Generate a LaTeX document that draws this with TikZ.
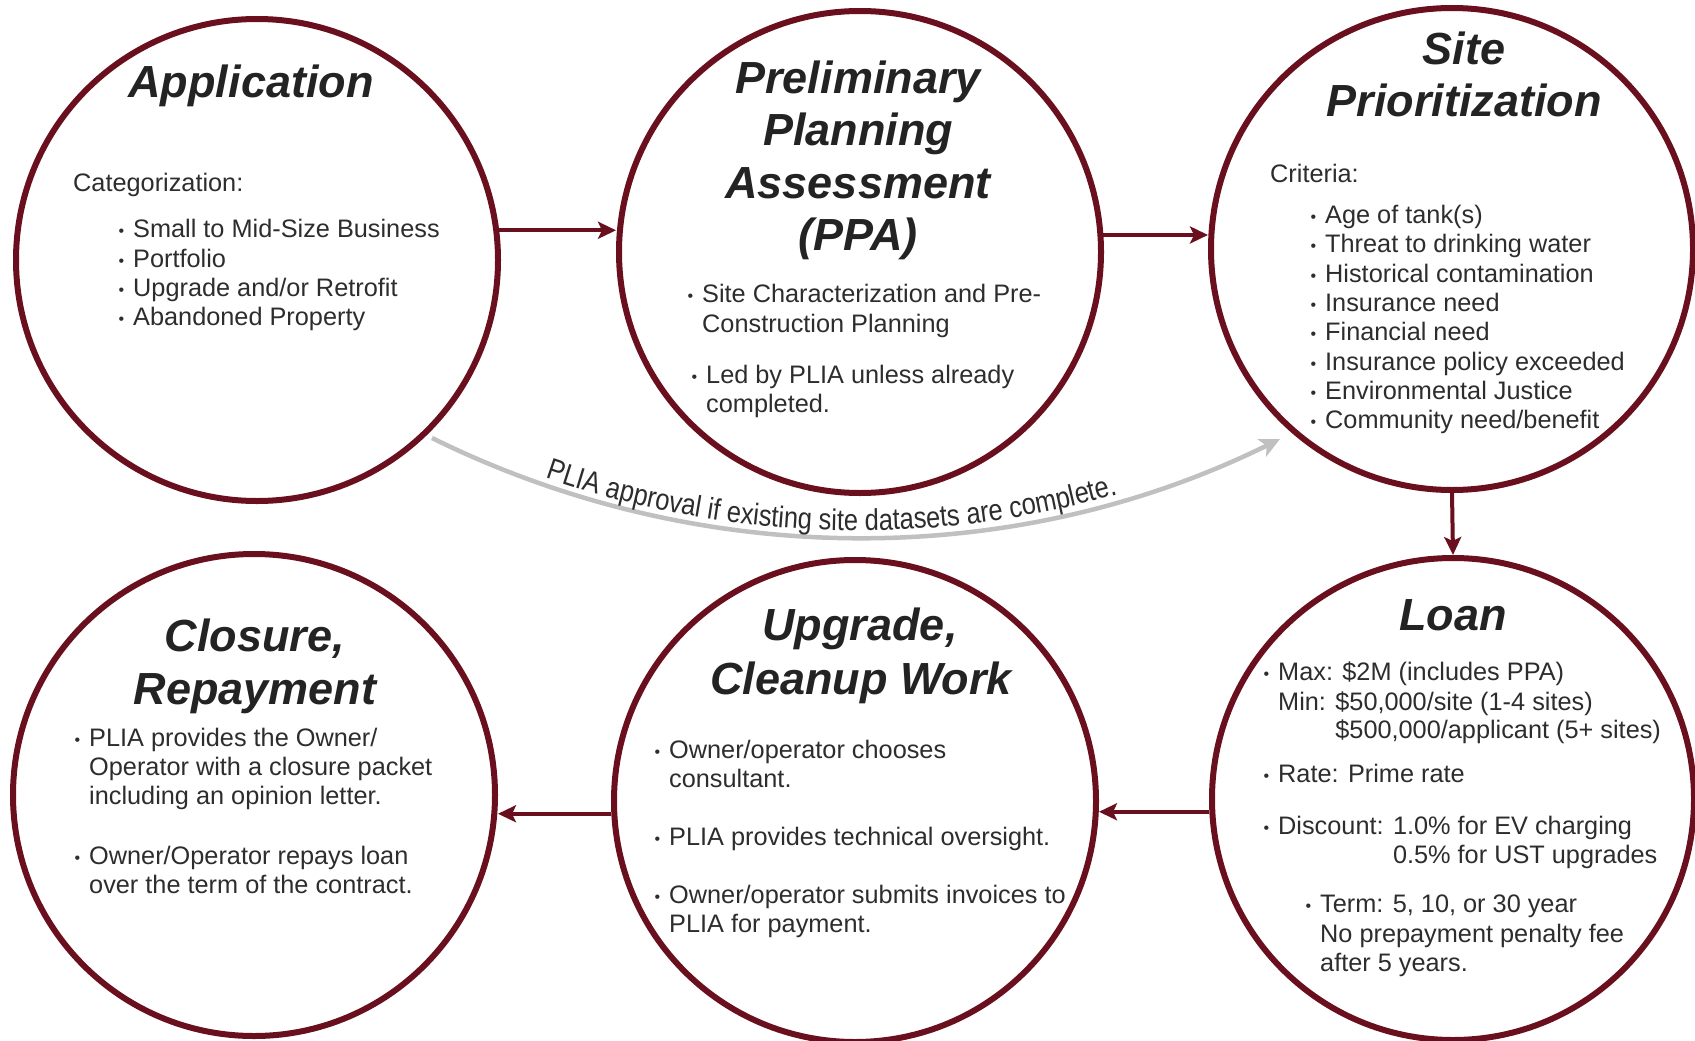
\documentclass[tikz,border=0pt]{standalone}
\usepackage{fontspec}
\setmainfont{Liberation Sans}
\newfontfamily\narrowfont[FakeStretch=0.85]{Liberation Sans}
\usetikzlibrary{arrows.meta,decorations.text}
\definecolor{colMaroon}{RGB}{105,15,30}
\definecolor{colTxt}{RGB}{45,45,45}
\definecolor{colTtl}{RGB}{35,35,35}
\definecolor{colGray}{RGB}{192,192,192}
\newcommand\bul{\llap{{\fontsize{16}{16}\selectfont\raisebox{1pt}{•}}\hspace{9pt}}}
\begin{document}
\begin{tikzpicture}[x=1pt,y=1pt,
  circ/.style={circle,draw=colMaroon,line width=6pt,minimum size=482pt,inner sep=0pt},
  arr/.style={draw=colMaroon,line width=4pt,-{Stealth[length=18pt,width=17pt,inset=4pt]}},
  grayarr/.style={draw=colGray,line width=4.5pt,-{Stealth[length=20pt,width=19pt,inset=5pt]}},
  ttl/.style={font=\fontsize{45}{52}\selectfont\bfseries\itshape,text=colTtl,anchor=base,inner sep=0pt},
  body/.style={font=\fontsize{25.3}{29.5}\selectfont,text=colTxt,anchor=base west,inner sep=0pt}]
\useasboundingbox (0,0) rectangle (1695,-1041);
\fill[white] (0,0) rectangle (1695,-1041);

% circles
\node[circ] (app) at (257,-260) {};
\node[circ] (ppa) at (860,-252) {};
\node[circ] (site) at (1452,-249) {};
\node[circ] (clo) at (254,-795) {};
\node[circ] (upg) at (855,-801) {};
\node[circ] (loan) at (1453,-799) {};

% connectors
\draw[arr] (app.7) -- (app.7 -| ppa.west);
\draw[arr] (ppa.4) -- (ppa.4 -| site.west);
\draw[arr] (site.south) -- (loan.north);
\draw[arr] (loan.183) -- (loan.183 -| upg.east);
\draw[arr] (upg.183) -- (upg.183 -| clo.east);

% gray bypass arrow with curved label
\coordinate (gs) at (432,-438);
\coordinate (ge) at (1280,-439);
\draw[grayarr] (gs) .. controls (699,-570) and (1013,-571) .. (ge);
\path[decorate,decoration={text along path,text align={center,right indent=52pt},raise=7pt,text color=colTxt,
  text={|\narrowfont\fontsize{30}{30}\selectfont|PLIA approval if existing site datasets are complete.}}]
  (gs) .. controls (699,-570) and (1013,-571) .. (ge);

% Application
\node[ttl] (appT) at (251,-97) {Application};
\node[body] (appC) at (73,-191) {Categorization:};
\node[body] (appB1) at (133,-237) {\bul Small to Mid-Size Business};
\node[body] (appB2) at (133,-267) {\bul Portfolio};
\node[body] (appB3) at (133,-296) {\bul Upgrade and/or Retrofit};
\node[body] (appB4) at (133,-325) {\bul Abandoned Property};

% PPA
\node[ttl] (ppaT1) at (858,-93) {Preliminary};
\node[ttl] (ppaT2) at (858,-145.5) {Planning};
\node[ttl] (ppaT3) at (858,-198) {Assessment};
\node[ttl] (ppaT4) at (858,-250.5) {(PPA)};
\node[body] (ppaB1) at (702,-302) {\bul Site Characterization and Pre-};
\node[body] (ppaB2) at (702,-332) {Construction Planning};
\node[body] (ppaB3) at (706,-383) {\bul Led by PLIA unless already};
\node[body] (ppaB4) at (706,-412) {completed.};

% Site Prioritization
\node[ttl] (siteT1) at (1464,-64) {Site};
\node[ttl] (siteT2) at (1464,-116) {Prioritization};
\node[body] (siteC) at (1270,-182) {Criteria:};
\node[body] (siteB1) at (1325,-223.5) {\bul Age of tank(s)};
\node[body] (siteB2) at (1325,-252.8) {\bul Threat to drinking water};
\node[body] (siteB3) at (1325,-282.1) {\bul Historical contamination};
\node[body] (siteB4) at (1325,-311.4) {\bul Insurance need};
\node[body] (siteB5) at (1325,-340.7) {\bul Financial need};
\node[body] (siteB6) at (1325,-370) {\bul Insurance policy exceeded};
\node[body] (siteB7) at (1325,-399.3) {\bul Environmental Justice};
\node[body] (siteB8) at (1325,-428.6) {\bul Community need/benefit};

% Closure
\node[ttl] (cloT1) at (255,-651) {Closure,};
\node[ttl] (cloT2) at (255,-704) {Repayment};
\node[body] (cloB1) at (89,-746) {\bul PLIA provides the Owner/};
\node[body] (cloB2) at (89,-775) {Operator with a closure packet};
\node[body] (cloB3) at (89,-804) {including an opinion letter.};
\node[body] (cloB4) at (89,-864) {\bul Owner/Operator repays loan};
\node[body] (cloB5) at (89,-893) {over the term of the contract.};

% Upgrade
\node[ttl] (upgT1) at (860,-640) {Upgrade,};
\node[ttl] (upgT2) at (861,-694) {Cleanup Work};
\node[body] (upgB1) at (669,-758) {\bul Owner/operator chooses};
\node[body] (upgB2) at (669,-787) {consultant.};
\node[body] (upgB3) at (669,-845) {\bul PLIA provides technical oversight.};
\node[body] (upgB4) at (669,-903) {\bul Owner/operator submits invoices to};
\node[body] (upgB5) at (669,-932) {PLIA for payment.};

% Loan
\node[ttl] (loanT) at (1453,-630) {Loan};
\node[body] (loanB1) at (1278,-680) {\bul Max: \$2M (includes PPA)};
\node[body] (loanB2) at (1278,-710) {Min: \$50,000/site (1-4 sites)};
\node[body] (loanB3) at (1278,-738) {\phantom{Min: }\$500,000/applicant (5+ sites)};
\node[body] (loanB4) at (1278,-782) {\bul Rate: Prime rate};
\node[body] (loanB5) at (1278,-834) {\bul Discount: 1.0\% for EV charging};
\node[body] (loanB6) at (1278,-863) {\phantom{Discount: }0.5\% for UST upgrades};
\node[body] (loanB7) at (1320,-912) {\bul Term: 5, 10, or 30 year};
\node[body] (loanB8) at (1320,-942) {No prepayment penalty fee};
\node[body] (loanB9) at (1320,-971) {after 5 years.};
\end{tikzpicture}
\end{document}
